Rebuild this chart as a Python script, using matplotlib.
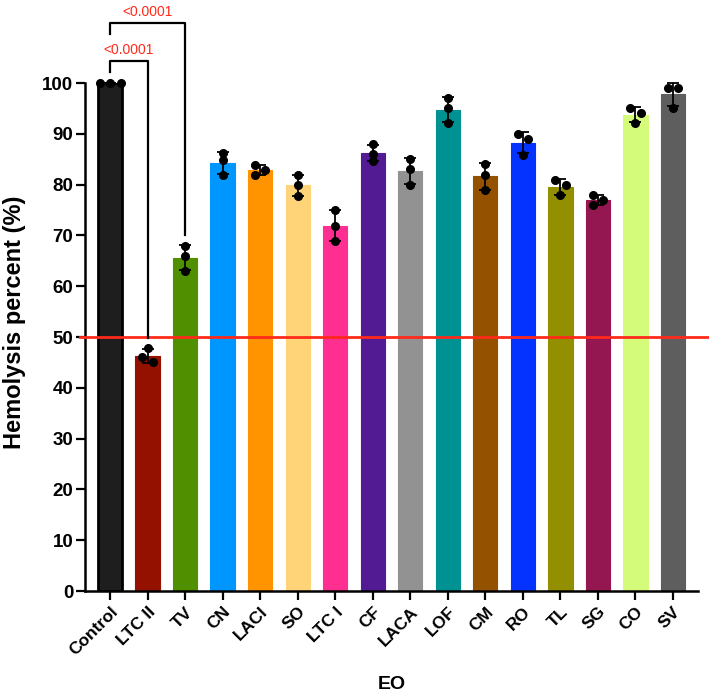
import numpy as np
import matplotlib
matplotlib.use("Agg")
import matplotlib.pyplot as plt
import matplotlib.transforms as mtransforms

plt.rcParams["font.family"] = ["Liberation Sans", "DejaVu Sans"]

groups = ["Control", "LTC II", "TV", "CN", "LACI", "SO", "LTC I", "CF",
          "LACA", "LOF", "CM", "RO", "TL", "SG", "CO", "SV"]
colors = ["#1e1e1e", "#941100", "#4f8f00", "#0096ff", "#ff9300", "#ffd479",
          "#ff2f92", "#531b93", "#929292", "#009193", "#945200", "#0433ff",
          "#929000", "#941751", "#d4fb79", "#5e5e5e"]

# three replicates per essential oil (hemolysis %)
replicates = [
    [100.0, 100.0, 100.0],
    [47.8, 46.0, 45.0],
    [68.0, 65.9, 63.0],
    [86.2, 84.8, 81.9],
    [83.9, 82.9, 81.9],
    [81.9, 79.9, 77.8],
    [75.0, 71.9, 68.9],
    [87.9, 86.0, 84.7],
    [85.0, 83.0, 79.9],
    [97.1, 95.1, 92.1],
    [84.0, 81.9, 78.9],
    [90.0, 88.9, 85.9],
    [80.9, 79.9, 77.9],
    [77.9, 76.9, 75.9],
    [95.1, 94.1, 92.1],
    [99.1, 99.1, 95.1],
]

# significance brackets: (index compared with Control, p label)
comparisons = [(1, "<0.0001"), (2, "<0.0001")]
threshold = 50


def swarm_offsets(vals, step=0.14, gap=1.2):
    vals = np.asarray(vals)
    order = np.argsort(-vals, kind="stable")
    offs = np.zeros(len(vals))
    clusters = [[order[0]]]
    for i in order[1:]:
        if vals[clusters[-1][-1]] - vals[i] < gap:
            clusters[-1].append(i)
        else:
            clusters.append([i])
    for c in clusters:
        n = len(c)
        if n == 1:
            continue
        crowded = any(abs(vals[c[k]] - vals[c[k + 2]]) < gap for k in range(n - 2))
        for k, idx in enumerate(c):
            if crowded:
                offs[idx] = (k - (n - 1) / 2) * 2 * step
            else:
                offs[idx] = (-1) ** (k + 1) * step
    return offs


data = [np.array(r) for r in replicates]
means = [d.mean() for d in data]
sds = [d.std(ddof=1) for d in data]
x = np.arange(len(groups))

fig = plt.figure(figsize=(7.09, 7.0), dpi=100)
ax = fig.add_axes([0.1199, 0.1557, 0.8646, 0.7257])

ax.bar(x, means, width=0.65, color=colors, edgecolor=colors, linewidth=0.8, zorder=2)
ax.bar(x[0], means[0], width=0.65, color=colors[0], edgecolor="black", linewidth=2, zorder=2)

ax.errorbar(x, means, yerr=sds, fmt="none", ecolor="black", elinewidth=1.3,
            capsize=4.5, capthick=1.3, zorder=3, clip_on=False)

for i, d in enumerate(data):
    ax.plot(x[i] + swarm_offsets(d), d, "o", color="black", markersize=5.5,
            zorder=4, clip_on=False)

# 50 % line running past the axes
trans = mtransforms.blended_transform_factory(ax.transAxes, ax.transData)
ax.plot([-0.008, 1.02], [threshold, threshold], color="#ff2a1a", linewidth=2,
        transform=trans, clip_on=False, zorder=5)

# brackets
level = 104.3
for j, (idx, label) in enumerate(comparisons):
    y_bar = level + j * 7.5
    y_right = data[idx].max() + 2
    ax.plot([x[0], x[0], x[idx], x[idx]], [y_bar - 2.1, y_bar, y_bar, y_right],
            color="black", linewidth=1.6, clip_on=False, zorder=6)
    ax.text((x[0] + x[idx]) / 2, y_bar + 0.9, label, color="#ff2a1a",
            fontsize=10, ha="center", va="bottom")

ax.set_xlim(-0.67, len(groups) - 0.33)
ax.set_ylim(0, 100)
ax.set_yticks(np.arange(0, 101, 10))
ax.set_xticks(x)
ax.set_xticklabels(groups, rotation=45, ha="right", va="top",
                   rotation_mode="anchor", fontsize=12.5, fontweight="bold")
for lab in ax.get_yticklabels():
    lab.set_fontsize(13.5)
    lab.set_fontweight("bold")

for side in ["top", "right"]:
    ax.spines[side].set_visible(False)
for side in ["left", "bottom"]:
    ax.spines[side].set_linewidth(1.8)
ax.tick_params(axis="both", length=6.5, width=1.6, direction="out")
ax.tick_params(axis="x", pad=3)
ax.tick_params(axis="y", pad=2)

ax.set_ylabel("Hemolysis percent (%)", fontsize=17, fontweight="bold")
ax.yaxis.set_label_coords(-0.097, 0.528)
ax.set_xlabel("EO", fontsize=14, fontweight="bold", labelpad=13)

fig.savefig("out.png", dpi=100)
